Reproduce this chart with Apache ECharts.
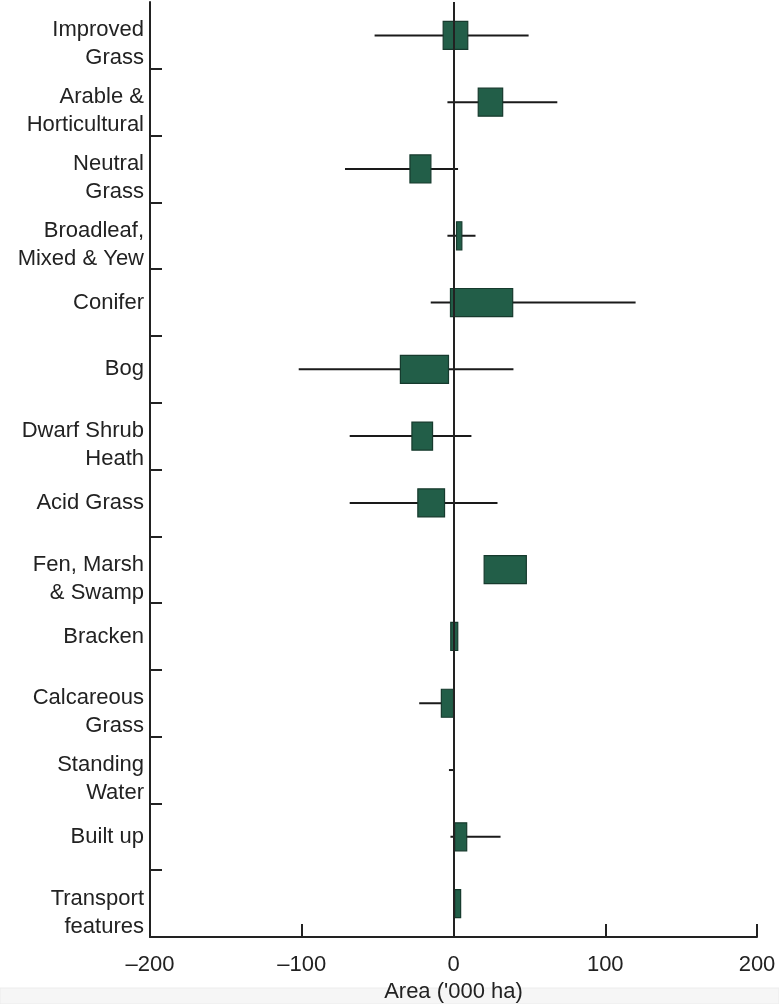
<!DOCTYPE html>
<html>
<head>
<meta charset="utf-8">
<script src="https://cdn.jsdelivr.net/npm/echarts@6/dist/echarts.min.js"></script>
<style>
html,body{margin:0;padding:0;background:#fff;}
#chart{width:779px;height:1004px;}
</style>
</head>
<body>
<div id="chart"></div>
<script>
// Categories (top to bottom)
const categories = [
  "Improved\nGrass",
  "Arable &\nHorticultural",
  "Neutral\nGrass",
  "Broadleaf,\nMixed & Yew",
  "Conifer",
  "Bog",
  "Dwarf Shrub\nHeath",
  "Acid Grass",
  "Fen, Marsh\n& Swamp",
  "Bracken",
  "Calcareous\nGrass",
  "Standing\nWater",
  "Built up",
  "Transport\nfeatures"
];
// Box (inner range) low / high, '000 ha
const boxLow  = [-6.8, 16.3, -28.7, 2.0, -2.0, -35.0, -27.4, -23.5, 20.2, -1.8, -8.0, null, 0.8, 0.8];
const boxHigh = [ 9.4, 32.4, -14.9, 5.5, 39.0, -3.3, -13.8, -5.9, 48.0, 2.8, 0.0, null, 8.7, 4.7];
// Whisker (outer range) low / high, '000 ha
const whiskLow  = [-52, -4, -71.5, -4, -15, -102, -68.4, -68.4, null, null, -22.6, -3, -2, null];
const whiskHigh = [49.5, 68.4, 3, 14.5, 120, 39.5, 11.8, 29, null, null, 0, 0, 31, null];
// X axis ticks
const xMin = -200, xMax = 200, xStep = 100;
const xTitle = "Area ('000 ha)";

const FONT = "'Liberation Sans', Arial, Helvetica, sans-serif";
const TXT = '#222';

const data = categories.map((c, i) => [i, boxLow[i], boxHigh[i], whiskLow[i], whiskHigh[i]]);

function renderItem(params, api) {
  const i = api.value(0);
  const bl = api.value(1), bh = api.value(2), wl = api.value(3), wh = api.value(4);
  const band = api.size([0, 1])[1];
  const h = band * 0.42;
  const children = [];
  const has = v => v !== null && v !== undefined && !isNaN(v);
  if (has(wl) && has(wh)) {
    const p1 = api.coord([wl, i]);
    const p2 = api.coord([wh, i]);
    children.push({
      type: 'line',
      shape: {x1: p1[0], y1: p1[1], x2: p2[0], y2: p2[1]},
      style: {stroke: '#1a1a1a', lineWidth: 2},
      z2: 1
    });
  }
  if (has(bl) && has(bh)) {
    const a = api.coord([bl, i]);
    const b = api.coord([bh, i]);
    children.push({
      type: 'rect',
      shape: {x: a[0], y: a[1] - h / 2, width: b[0] - a[0], height: h},
      style: {fill: '#225e48', stroke: '#163a2d', lineWidth: 1.2},
      z2: 2
    });
  }
  return {type: 'group', children: children};
}

function labelFmt(v) {
  const lines = v.split('\n');
  if (lines.length === 1) return '{t|' + lines[0] + '}';
  return '{sp| }\n' + lines.map(l => '{t|' + l + '}').join('\n');
}

const chart = echarts.init(document.getElementById('chart'), null, {renderer: 'canvas'});
chart.setOption({
  animation: false,
  backgroundColor: '#fff',
  grid: {left: 150, right: 22, top: 2, bottom: 67, containLabel: false, outerBoundsMode: 'none'},
  graphic: [{
    type: 'rect',
    z: -10,
    shape: {x: 0, y: 988, width: 779, height: 16},
    style: {fill: '#f6f6f6', stroke: '#ececec', lineWidth: 1}
  }],
  xAxis: {
    type: 'value',
    min: xMin, max: xMax, interval: xStep,
    name: xTitle,
    nameLocation: 'middle',
    nameGap: 40,
    nameTextStyle: {fontFamily: FONT, fontSize: 22, color: TXT},
    axisLine: {show: true, onZero: false, lineStyle: {color: '#222', width: 2}},
    axisTick: {show: true, inside: true, length: 13, lineStyle: {color: '#222', width: 2}},
    axisLabel: {
      fontFamily: FONT, fontSize: 22, color: TXT, margin: 17,
      formatter: v => v < 0 ? '\u2013' + Math.abs(v) : String(v)
    },
    splitLine: {show: false}
  },
  yAxis: {
    type: 'category',
    data: categories,
    inverse: true,
    axisLine: {show: true, onZero: false, lineStyle: {color: '#222', width: 2}},
    axisTick: {show: true, inside: true, length: 12, interval: (idx) => idx !== 0, lineStyle: {color: '#222', width: 2}},
    axisLabel: {
      margin: 6,
      formatter: labelFmt,
      rich: {
        t: {fontFamily: FONT, fontSize: 22, color: TXT, lineHeight: 28, align: 'right'},
        sp: {fontSize: 1, lineHeight: 18}
      }
    },
    splitLine: {show: false}
  },
  series: [
    {
      type: 'line',
      data: [],
      z: 1,
      silent: true,
      markLine: {
        silent: true,
        symbol: 'none',
        label: {show: false},
        lineStyle: {color: '#222', width: 2, type: 'solid'},
        data: [{xAxis: 0}]
      }
    },
    {
      type: 'custom',
      z: 3,
      renderItem: renderItem,
      encode: {x: [1, 2, 3, 4], y: 0},
      data: data
    }
  ]
});
</script>
</body>
</html>
